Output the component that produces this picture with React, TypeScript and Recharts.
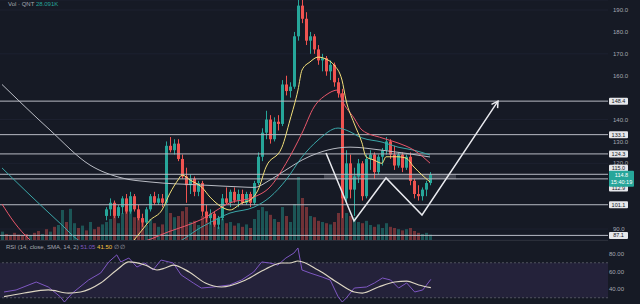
import React from 'react';
import { ComposedChart, Bar, Line, XAxis, YAxis, ReferenceLine, ReferenceArea, CartesianGrid, Cell } from 'recharts';

const SLOTS = 152;
const FIRST_CANDLE = 26;
const opens = [96,99,102,96,100,104,98,105,99,95, 93,99,105,102,104,102,128,126,129,122, 114,110,113,107,111,98,95,97,92,95, 104,102,107,103,106,102,106,102,111,123, 134,140,131,139,138,156,153,155,178,192, 186,176,178,172,167,168,162,165,157,152, 104,120,108,114,120,105,122,124,116,123, 126,130,124,119,124,118,123,112,106,105, 108,111];
const highs = [100,104,103,101,105,106,107,106,101,97, 100,106,107,106,106,130,132,131,131,124, 118,115,114,112,112,101,99,98,96,106, 109,108,109,108,108,107,107,112,125,136, 144,142,141,142,158,160,157,180,196,196, 189,180,179,174,170,169,167,166,159,154, 126,124,118,122,121,124,126,125,124,127, 132,131,128,125,125,124,125,113,110,109, 112,116];
const lows = [94,96,95,95,97,97,97,98,94,91, 92,98,101,101,100,101,125,124,121,113, 102,106,105,105,96,93,92,91,90,94, 101,100,102,100,101,101,100,101,110,121, 131,129,130,135,137,151,150,154,176,184, 174,170,170,165,162,160,158,155,150,95, 101,104,96,111,103,104,117,113,115,119, 124,122,117,118,116,117,110,104,103,103, 105,110];
const closes = [99,102,96,100,104,98,105,99,95,93, 99,105,102,104,102,128,126,129,122,114, 110,113,107,111,98,95,97,92,95,104, 102,107,103,106,102,106,102,111,123,134, 140,131,139,138,156,153,155,178,192,186, 176,178,172,167,168,162,165,157,152,104, 120,108,114,120,105,122,124,116,123,126, 130,124,119,124,118,123,112,106,105,108, 111,114.8];
const volumes = [14,10,8,12,9,7,10,8,12,15, 10,18,14,22,25,50,30,52,28,20, 24,16,30,18,22,26, 30,35,40,28,45,55,50,38,42,30, 25,35,28,22,26,60,45,38,40,48, 55,30,32,25,40,38,28,30,22,35, 28,30,24,28,22,26,20,35,50,55, 48,42,35,30,55,40,30,60,105,70, 55,40,38,32,30,28,26,30,45,72, 45,40,38,30,28,32,25,22,26,20, 28,22,20,18,16,18,20,15,12,10, 12,9];
const earlyVolUp = [1,0,0,0,0,0,0,1,0,0, 1,0,1,0,1,1,0,1,1,0, 1,0,1,0,0,1];

const fastMA: [number, number][] = [[32,83],[33,85],[35,89.5],[37,94],[40,98.7],[42,106.4],[44,112.4],[45,114.7],[47,112.4],[50,109],[52,104.6],[55,100],[57,98.7],[60,101.9],[62,103.2],[64,107.8],[66,118.3],[70,127.4],[72,139.8],[74,153.5],[75,162.6],[77,166.3],[79,168.5],[81,167.6],[83,164.9],[85,158],[86,148.9],[88,138.4],[90,129.3],[91,123],[93,121.5],[95,120],[96,123],[99,123],[101,122.4],[103,118.3],[105,114.7],[107,111.5]];
const redMA: [number, number][] = [[0,101.4],[3,93.2],[7,85],[9,82],[34,84],[42,89],[50,94.5],[57,102],[63,104.6],[67,109.2],[71,120],[75,133.8],[78,145.7],[81,151.2],[84,153.5],[85,148.9],[88,140.7],[90,135.2],[95,131.6],[99,129.3],[103,126],[107,120.1]];
const tealMA: [number, number][] = [[0,117.9],[7,105.5],[15,91.8],[19,85],[22,82],[42,83],[50,91],[57,97.3],[63,100],[67,104.6],[71,112.4],[75,122.9],[79,130.6],[84,136.1],[86,135.2],[90,131.6],[95,129.7],[99,127.4],[103,126],[107,123.8]];
const grayMA: [number, number][] = [[0,156],[12,135.2],[22,119.2],[30,113.3],[37,111.5],[50,110.1],[60,109.2],[63,109],[67,112.4],[71,117],[75,121.5],[79,124.7],[84,127],[87,127.4],[95,126],[107,122.9]];
const patternPts: [number, number][] = [[81,124.7],[88,93.7],[96,113.3],[105,96.4],[124,148.4]];
const rsiPts: [number, number][] = [[1,36.6],[4,38.9],[9,48],[12,42.3],[15,31],[16,25.1],[18,35.4],[22,50.3],[25,58.3],[27,70.9],[29,79],[30,70.9],[32,75.4],[34,65.1],[36,69.7],[38,61.7],[40,73.1],[43,69.7],[45,56],[48,46.9],[50,41.1],[53,42.3],[57,44.6],[60,50.3],[63,59.4],[65,70.9],[67,69.7],[69,67.4],[71,75.4],[73,81.1],[74,86.9],[75,61.7],[77,58.3],[80,53.7],[82,50.3],[84,31],[85,25.1],[86,29.7],[88,41.1],[91,42.3],[93,46.9],[95,52.6],[97,50.3],[99,41.1],[101,46.9],[103,36.6],[105,38.9],[107,51.05]];
const rsiSmaPts: [number, number][] = [[1,31.2],[6,35.4],[12,38.9],[17,35.4],[20,36.6],[25,46.9],[29,61.7],[32,70.9],[36,67.4],[39,61.7],[41,64],[43,67.4],[47,59.4],[51,46.9],[55,42.3],[61,50.3],[66,62.9],[70,69.7],[72,69.7],[74,72],[79,61.7],[84,46.9],[88,36.6],[90,35.4],[94,42.3],[98,48],[101,49.1],[104,44.6],[107,41.5]];

const priceTicks = [90, 120, 130, 140, 160, 170, 180, 190];
const rsiTicks = [40, 60, 80];
const levels = [
  { v: 148.4, t: '148.4', s: 0 },
  { v: 133.1, t: '133.1', s: 0 },
  { v: 124.3, t: '124.3', s: 0 },
  { v: 115.0, t: '115.0', s: -6 },
  { v: 112.9, t: '112.9', s: 9 },
  { v: 101.1, t: '101.1', s: 0 },
  { v: 87.1, t: '87.1', s: 0 },
];
const lastPrice = 114.8;
const lastPriceText = '114.8';
const countdown = '15:40:19';

const UP = '#26a69a';
const DOWN = '#ef5350';
const BG = '#161a25';
const FONT = '"Liberation Sans", Arial, sans-serif';

const toMap = (pts: [number, number][]) => new Map(pts.map(([i, v]) => [i, v]));
const mFast = toMap(fastMA), mRed = toMap(redMA), mTeal = toMap(tealMA), mGray = toMap(grayMA), mPat = toMap(patternPts);
const mRsi = toMap(rsiPts), mSma = toMap(rsiSmaPts);

const rows = Array.from({ length: SLOTS }, (_, i) => {
  const k = i - FIRST_CANDLE;
  const has = k >= 0 && k < opens.length;
  const up = has ? closes[k] >= opens[k] : i < earlyVolUp.length ? earlyVolUp[i] === 1 : true;
  return {
    i,
    candle: has ? [lows[k], highs[k]] : null,
    o: has ? opens[k] : null,
    h: has ? highs[k] : null,
    l: has ? lows[k] : null,
    c: has ? closes[k] : null,
    vol: i < volumes.length ? volumes[i] : null,
    up,
    fast: mFast.get(i) ?? null,
    red: mRed.get(i) ?? null,
    teal: mTeal.get(i) ?? null,
    gray: mGray.get(i) ?? null,
    pat: mPat.get(i) ?? null,
  };
});
const rsiRows = Array.from({ length: SLOTS }, (_, i) => ({ i, rsi: mRsi.get(i) ?? null, sma: mSma.get(i) ?? null }));

const CandleShape = (props: any) => {
  const { x, y, width, height, payload } = props;
  if (!payload || payload.o == null) return <g />;
  const { o, h, l, c } = payload;
  const top = Math.min(y, y + height);
  const bot = Math.max(y, y + height);
  const k = (bot - top) / (h - l || 1);
  const yO = top + (h - o) * k;
  const yC = top + (h - c) * k;
  const col = c >= o ? UP : DOWN;
  const cx = x + width / 2;
  return (
    <g>
      <line x1={cx} x2={cx} y1={top} y2={bot} stroke={col} strokeWidth={1} />
      <rect x={x} y={Math.min(yO, yC)} width={width} height={Math.max(1, Math.abs(yO - yC))} fill={col} />
    </g>
  );
};

const PriceTag = (props: any) => {
  const { viewBox, text, shift = 0 } = props;
  if (!viewBox) return null;
  const x = viewBox.x + viewBox.width + 1;
  const y = viewBox.y + shift;
  return (
    <g>
      <rect x={x} y={y - 3.5} width={19} height={7} fill="#e6e7eb" rx={1} />
      <text x={x + 9.5} y={y + 2} textAnchor="middle" fontSize={5.5} fill="#131722" fontFamily={FONT}>{text}</text>
    </g>
  );
};

const LastTag = (props: any) => {
  const { viewBox } = props;
  if (!viewBox) return null;
  const x = viewBox.x + viewBox.width + 1;
  const y = viewBox.y;
  return (
    <g>
      <rect x={x} y={y - 4} width={25} height={16} fill={UP} rx={1} />
      <text x={x + 12.5} y={y + 2} textAnchor="middle" fontSize={5.5} fill="#ffffff" fontFamily={FONT}>{lastPriceText}</text>
      <text x={x + 12.5} y={y + 9} textAnchor="middle" fontSize={5.5} fill="#ffffff" fontFamily={FONT}>{countdown}</text>
    </g>
  );
};

const ArrowDot = (p: any) => {
  if (!p || !p.payload || p.payload.i !== patternPts[patternPts.length - 1][0]) return <g key={p?.key} />;
  const { cx, cy } = p;
  return <path key={p.key} d={`M${cx - 6.5},${cy + 3.2} L${cx},${cy} L${cx - 0.4},${cy + 7}`} fill="none" stroke="#e8e9ee" strokeWidth={1.5} />;
};

export default function App() {
  return (
    <div style={{ position: 'fixed', left: 0, top: 0, width: 640, height: 304, background: BG, overflow: 'hidden', fontFamily: FONT }}>
      <ComposedChart width={640} height={240} data={rows} margin={{ top: 0, right: 0, left: 0, bottom: 0 }}>
        <CartesianGrid stroke="#1d2130" vertical={false} />
        <XAxis dataKey="i" type="category" hide />
        <XAxis xAxisId="vx" dataKey="i" type="category" hide />
        <YAxis
          orientation="right"
          width={32}
          domain={[85, 194.57]}
          allowDataOverflow
          ticks={priceTicks}
          tickFormatter={(v: number) => v.toFixed(1)}
          tick={{ fontSize: 6, fill: '#a5a8b1', fontFamily: FONT, textAnchor: 'start' }}
          tickSize={0}
          tickMargin={5}
          axisLine={false}
          tickLine={false}
        />
        <YAxis yAxisId="vol" hide domain={[0, 400]} />
        <Bar xAxisId="vx" yAxisId="vol" dataKey="vol" barSize={3} isAnimationActive={false}>
          {rows.map((r) => (
            <Cell key={r.i} fill={r.up ? 'rgba(38,166,154,0.42)' : 'rgba(239,83,80,0.42)'} />
          ))}
        </Bar>
        <ReferenceArea x1={81} x2={113} y1={112.9} y2={115} fill="#9598a1" fillOpacity={0.35} stroke="none" />
        {levels.map((l) => (
          <ReferenceLine key={l.t} y={l.v} stroke="#b8bbc4" strokeWidth={1} label={<PriceTag text={l.t} shift={l.s} />} />
        ))}
        <ReferenceLine y={lastPrice} stroke="none" strokeOpacity={0} label={<LastTag />} />
        <Line dataKey="gray" type="monotone" connectNulls stroke="#b9bcc4" strokeWidth={1} dot={false} activeDot={false} isAnimationActive={false} />
        <Line dataKey="teal" type="monotone" connectNulls stroke="#3aa6a8" strokeWidth={1} dot={false} activeDot={false} isAnimationActive={false} />
        <Line dataKey="red" type="monotone" connectNulls stroke="#e8576a" strokeWidth={1} dot={false} activeDot={false} isAnimationActive={false} />
        <Bar dataKey="candle" barSize={3} shape={<CandleShape />} isAnimationActive={false} />
        <Line dataKey="fast" type="monotone" connectNulls stroke="#f3e07a" strokeWidth={1} dot={false} activeDot={false} isAnimationActive={false} />
        <Line dataKey="pat" type="linear" connectNulls stroke="#e8e9ee" strokeWidth={1.5} dot={ArrowDot} activeDot={false} isAnimationActive={false} />
      </ComposedChart>
      <div style={{ position: 'absolute', left: 0, top: 240, width: 608, height: 1, background: '#2a2e39' }} />
      <div style={{ position: 'absolute', left: 0, top: 241 }}>
        <ComposedChart width={640} height={63} data={rsiRows} margin={{ top: 0, right: 0, left: 0, bottom: 0 }}>
          <XAxis dataKey="i" type="category" hide />
          <YAxis
            orientation="right"
            width={32}
            domain={[22.86, 94.86]}
            allowDataOverflow
            ticks={rsiTicks}
            tickFormatter={(v: number) => v.toFixed(2)}
            tick={{ fontSize: 6, fill: '#a5a8b1', fontFamily: FONT, textAnchor: 'start' }}
            tickSize={0}
            tickMargin={1}
            axisLine={false}
            tickLine={false}
          />
          <ReferenceArea y1={30} y2={70} fill="#7e57c2" fillOpacity={0.14} stroke="none" />
          <ReferenceLine y={70} stroke="#5d5f6b" strokeDasharray="2 2" strokeWidth={0.8} />
          <ReferenceLine y={30} stroke="#5d5f6b" strokeDasharray="2 2" strokeWidth={0.8} />
          <Line dataKey="rsi" type="linear" connectNulls stroke="#7e57c2" strokeWidth={1} dot={false} activeDot={false} isAnimationActive={false} />
          <Line dataKey="sma" type="monotone" connectNulls stroke="#ddd6c3" strokeWidth={1.2} dot={false} activeDot={false} isAnimationActive={false} />
        </ComposedChart>
      </div>
      <div style={{ position: 'absolute', left: 8, top: 0, fontSize: 6, lineHeight: '8px', whiteSpace: 'nowrap' }}>
        <span style={{ color: '#a5a8b1' }}>Vol · QNT </span>
        <span style={{ color: UP }}>28.091K</span>
      </div>
      <div style={{ position: 'absolute', left: 6, top: 243, fontSize: 6, lineHeight: '8px', whiteSpace: 'nowrap' }}>
        <span style={{ color: '#a5a8b1' }}>RSI (14, close, SMA, 14, 2) </span>
        <span style={{ color: '#7e57c2' }}>51.05 </span>
        <span style={{ color: '#f3c341' }}>41.50 </span>
        <span style={{ color: '#a5a8b1' }}>∅ ∅</span>
      </div>
    </div>
  );
}
